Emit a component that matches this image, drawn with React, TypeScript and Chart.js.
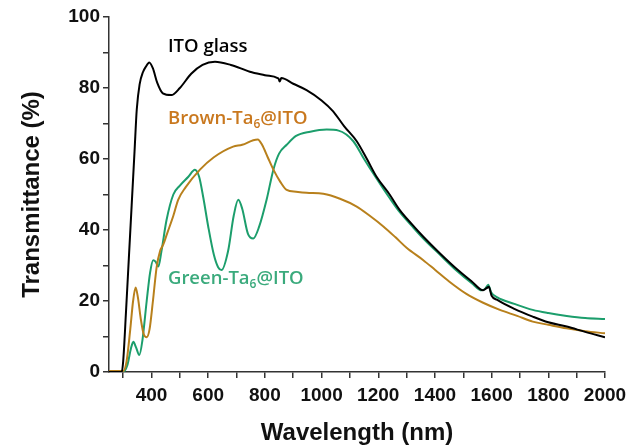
import React, { useEffect, useRef } from "react";
import { Chart, registerables } from "chart.js";

Chart.register(...registerables);

const itoX = [250, 295, 300, 310, 320, 330, 340, 348, 358, 370, 380, 392, 405, 420, 440, 470, 500, 540, 580, 624, 680, 747, 800, 845, 849, 852, 858, 900, 947, 1000, 1040, 1080, 1124, 1160, 1194, 1240, 1276, 1320, 1359, 1418, 1480, 1530, 1570, 1582, 1590, 1600, 1620, 1680, 1745, 1800, 1865, 1930, 2000];
const itoY = [0, 0, 3, 17, 32, 47, 62, 74, 81, 84.5, 86, 87.2, 85.5, 81.5, 78.5, 78, 80, 84, 86.5, 87.4, 86.5, 84.6, 83.6, 82.8, 82.5, 81.8, 82.8, 81.2, 79.4, 76.5, 73.5, 69.2, 65, 60, 55, 50, 45.6, 41.5, 38.1, 33.4, 28.8, 25.5, 23, 23.6, 24, 21.5, 20.3, 17.8, 15.6, 14, 12.8, 11.3, 9.8];

const brownX = [250, 300, 312, 325, 335, 344, 352, 362, 373, 383, 393, 405, 418, 430, 442, 455, 477, 494, 520, 571, 620, 688, 720, 759, 775, 790, 810, 830, 855, 877, 910, 947, 1006, 1065, 1124, 1170, 1218, 1260, 1300, 1359, 1400, 1450, 1511, 1570, 1629, 1690, 1745, 1800, 1864, 1930, 2000];
const brownY = [0.3, 0.3, 3, 12, 20, 23.8, 21, 15, 10.5, 9.8, 12, 20, 29.5, 34, 36, 39, 44, 48.5, 52, 57, 60.5, 63.5, 64, 65.3, 65.5, 64, 60.5, 57, 53.5, 51.3, 50.8, 50.5, 50.2, 48.8, 46.6, 44, 41, 38, 35, 31.5, 28.8, 25.5, 22, 19.5, 17.5, 15.8, 14.2, 13.3, 12.3, 11.5, 10.9];

const greenX = [250, 300, 315, 327, 336, 345, 357, 368, 383, 395, 406, 415, 424, 435, 453, 477, 500, 530, 553, 568, 583, 600, 620, 635, 647, 670, 690, 706, 720, 740, 759, 780, 806, 830, 850, 877, 910, 960, 1018, 1060, 1112, 1150, 1194, 1240, 1276, 1320, 1359, 1418, 1480, 1530, 1565, 1578, 1588, 1598, 1620, 1680, 1745, 1800, 1865, 1930, 2000];
const greenY = [0, 0, 2, 6.5, 8.5, 7, 4.8, 9, 20, 28, 31.5, 31, 29.7, 34, 42.8, 50, 52.5, 55, 57, 55, 49, 41, 33, 29.5, 28.7, 34, 44, 48.5, 46, 39, 37.6, 41, 48.5, 57, 61.5, 64, 66.5, 67.7, 68.3, 68, 65, 60, 54.5, 49, 45, 41, 37.6, 33, 28.3, 25, 23, 23.5, 24.6, 22.5, 21, 19.2, 17.5, 16.6, 15.8, 15.2, 14.9];

const seriesNames = ["ITO glass", "Brown-Ta6@ITO", "Green-Ta6@ITO"];
const xTickLabels = [400, 600, 800, 1000, 1200, 1400, 1600, 1800, 2000];
const yTickLabels = [0, 20, 40, 60, 80, 100];

// annotation anchors in data coordinates
const labelX = [458, 458, 458];
const labelY = [91.5, 71.3, 26.2];

const lineColors = ["#000000", "#B8801C", "#1C9E6C"];
const textColors = ["#000000", "#C9781E", "#3AAA7C"];

function pts(xs: number[], ys: number[]) {
  return xs.map((x, i) => ({ x, y: ys[i] }));
}

const annotationPlugin = {
  id: "annot",
  afterDatasetsDraw(chart: any) {
    const { ctx, scales } = chart;
    const fontMain = "600 18.5px 'Open Sans'";
    const fontSub = "600 12px 'Open Sans'";
    seriesNames.forEach((name, i) => {
      const px = scales.x.getPixelForValue(labelX[i]);
      const py = scales.y.getPixelForValue(labelY[i]);
      ctx.save();
      ctx.fillStyle = textColors[i];
      ctx.textBaseline = "middle";
      ctx.textAlign = "left";
      const idx = name.indexOf("6@");
      if (idx < 0) {
        ctx.font = fontMain;
        ctx.fillText(name, px, py);
      } else {
        const a = name.slice(0, idx);
        const b = name.slice(idx + 1);
        ctx.font = fontMain;
        ctx.fillText(a, px, py);
        let w = ctx.measureText(a).width;
        ctx.font = fontSub;
        ctx.fillText("6", px + w, py + 6);
        w += ctx.measureText("6").width;
        ctx.font = fontMain;
        ctx.fillText(b, px + w, py);
      }
      ctx.restore();
    });
  },
};

export default function App() {
  const ref = useRef<HTMLCanvasElement | null>(null);
  useEffect(() => {
    if (!ref.current) return;
    const chart = new Chart(ref.current, {
      type: "line",
      data: {
        datasets: [
          { label: seriesNames[0], data: pts(itoX, itoY), borderColor: lineColors[0] },
          { label: seriesNames[1], data: pts(brownX, brownY), borderColor: lineColors[1] },
          { label: seriesNames[2], data: pts(greenX, greenY), borderColor: lineColors[2] },
        ].map((d) => ({ ...d, borderWidth: 2, pointRadius: 0, fill: false, cubicInterpolationMode: "monotone" as const })),
      },
      options: {
        animation: false,
        responsive: false,
        maintainAspectRatio: false,
        layout: { padding: { top: 17, right: 32, left: 0, bottom: 0 } },
        plugins: { legend: { display: false }, tooltip: { enabled: false } },
        scales: {
          x: {
            type: "linear",
            min: 250,
            max: 2000,
            afterBuildTicks: (s: any) => {
              const t = [];
              for (let v = 300; v <= 2000; v += 100) t.push({ value: v });
              s.ticks = t;
            },
            afterFit: (s: any) => {
              s.height = 73;
            },
            ticks: {
              autoSkip: false,
              maxRotation: 0,
              padding: 6,
              color: "#111",
              font: { family: "'Liberation Sans', Arial", size: 19, weight: "bold" },
              callback: (v: any) => (xTickLabels.includes(Number(v)) ? String(v) : ""),
            },
            grid: { drawOnChartArea: false, drawTicks: true, tickLength: 6, color: "#333", lineWidth: 1.5 },
            border: { display: true, color: "#333", width: 1.5 },
            title: {
              display: true,
              text: "Wavelength (nm)",
              color: "#111",
              font: { family: "'Liberation Sans', Arial", size: 24, weight: "bold" },
              padding: { top: 0, bottom: -3 },
            },
          },
          y: {
            type: "linear",
            min: 0,
            max: 100,
            afterBuildTicks: (s: any) => {
              const t = [];
              for (let v = 0; v <= 100; v += 10) t.push({ value: v });
              s.ticks = t;
            },
            afterFit: (s: any) => {
              s.width = 109;
            },
            ticks: {
              autoSkip: false,
              padding: 3,
              color: "#111",
              font: { family: "'Liberation Sans', Arial", size: 19, weight: "bold" },
              callback: (v: any) => (yTickLabels.includes(Number(v)) ? String(v) : ""),
            },
            grid: { drawOnChartArea: false, drawTicks: true, tickLength: 6, color: "#333", lineWidth: 1.5 },
            border: { display: true, color: "#333", width: 1.5 },
            title: {
              display: true,
              text: "Transmittance (%)",
              color: "#111",
              font: { family: "'Liberation Sans', Arial", size: 24, weight: "bold" },
              padding: { top: 18, bottom: 0 },
            },
          },
        },
      },
      plugins: [annotationPlugin],
    });
    return () => chart.destroy();
  }, []);
  return (
    <div style={{ position: "fixed", left: 0, top: 0, width: 637, height: 445, background: "#fff" }}>
      <canvas ref={ref} width={637} height={445} style={{ width: 637, height: 445, display: "block" }} />
    </div>
  );
}
